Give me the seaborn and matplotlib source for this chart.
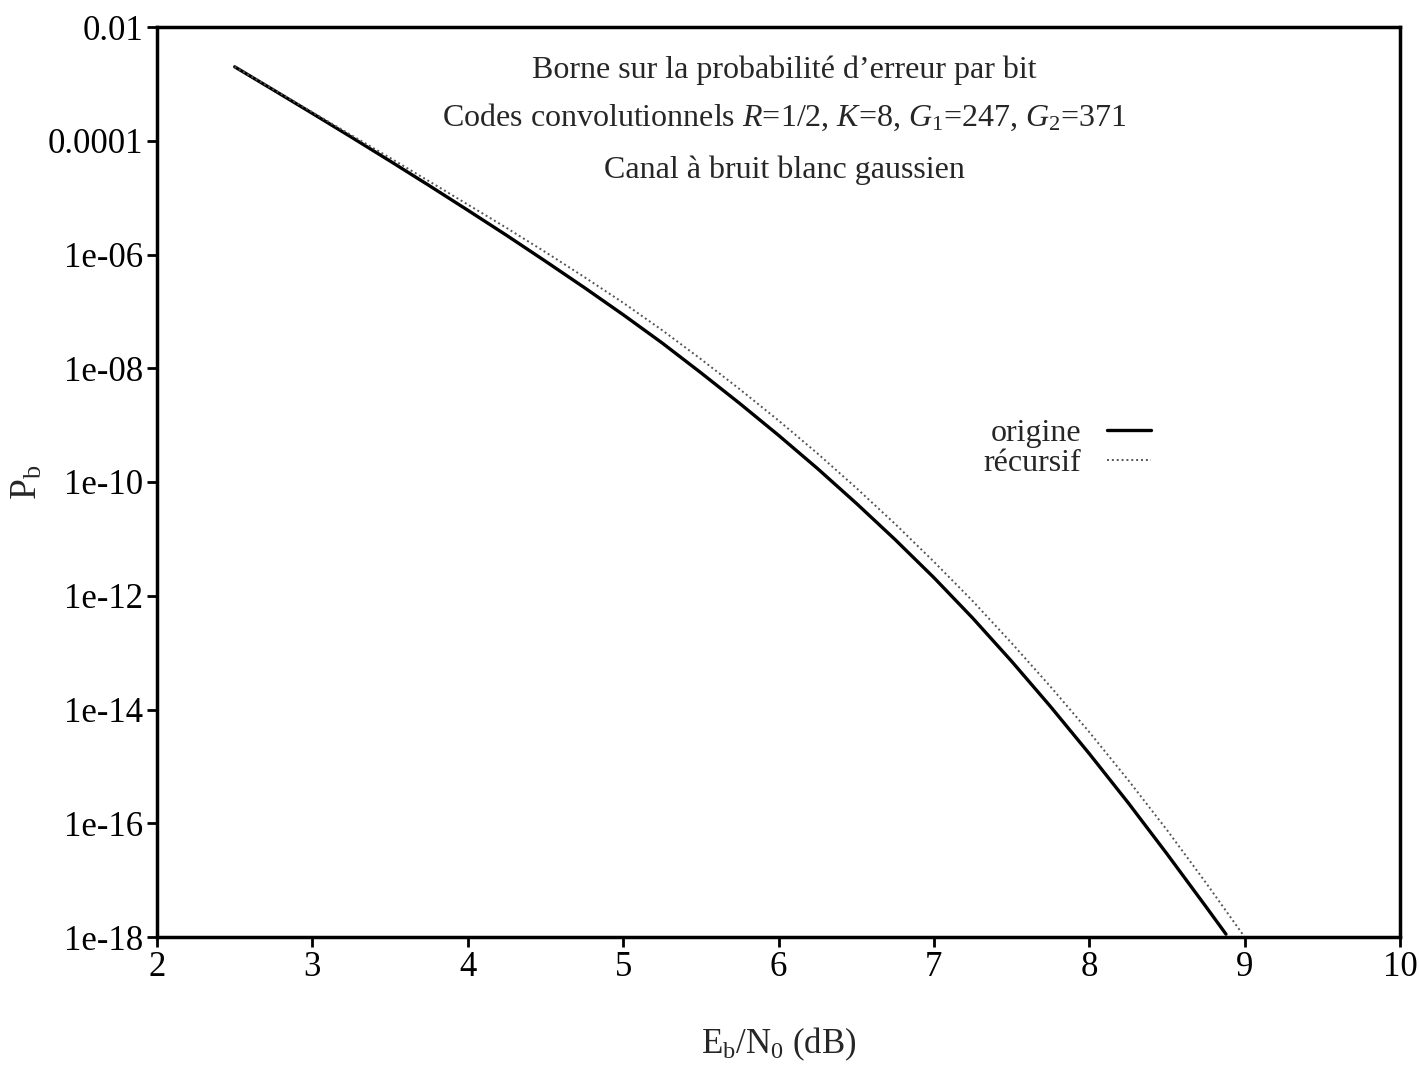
import numpy as np
import pandas as pd
import matplotlib
matplotlib.use("Agg")
import matplotlib.pyplot as plt
import seaborn as sns

# ---- data ----
ebn0_origine = [2.5, 2.75, 3.0, 3.25, 3.5, 3.75, 4.0, 4.25, 4.5, 4.75, 5.0, 5.25, 5.5, 5.75,
                6.0, 6.25, 6.5, 6.75, 7.0, 7.25, 7.5, 7.75, 8.0, 8.25, 8.5, 8.75, 8.88]
log10_pb_origine = [-2.700, -3.108, -3.519, -3.935, -4.357, -4.785, -5.221, -5.663, -6.118,
                    -6.581, -7.058, -7.553, -8.078, -8.618, -9.178, -9.761, -10.373, -11.011,
                    -11.681, -12.393, -13.151, -13.946, -14.776, -15.638, -16.538, -17.463, -17.950]

ebn0_recursif = [2.5, 2.75, 3.0, 3.25, 3.5, 3.75, 4.0, 4.25, 4.5, 4.75, 5.0, 5.25, 5.5, 5.75,
                 6.0, 6.25, 6.5, 6.75, 7.0, 7.25, 7.5, 7.75, 8.0, 8.25, 8.5, 8.75, 9.0]
log10_pb_recursif = [-2.700, -3.098, -3.499, -3.900, -4.302, -4.710, -5.121, -5.533, -5.958,
                     -6.396, -6.848, -7.328, -7.838, -8.368, -8.918, -9.496, -10.103, -10.736,
                     -11.401, -12.093, -12.831, -13.596, -14.396, -15.238, -16.118, -17.043, -18.000]

x_ticks = [2, 3, 4, 5, 6, 7, 8, 9, 10]
y_tick_exponents = [-2, -4, -6, -8, -10, -12, -14, -16, -18]
y_tick_labels = ["0.01", "0.0001", "1e-06", "1e-08", "1e-10", "1e-12", "1e-14", "1e-16", "1e-18"]
series_labels = ["origine", "récursif"]
title_lines = [
    "Borne sur la probabilité d\u2019erreur par bit",
    "Codes convolutionnels $R$=1/2, $K$=8, $G_1$=247, $G_2$=371",
    "Canal à bruit blanc gaussien",
]

# ---- style ----
sns.set_style("ticks")
plt.rcParams["font.family"] = ["Liberation Serif", "DejaVu Serif"]
plt.rcParams["mathtext.fontset"] = "custom"
plt.rcParams["mathtext.rm"] = "Liberation Serif"
plt.rcParams["mathtext.it"] = "Liberation Serif:italic"
plt.rcParams["mathtext.bf"] = "Liberation Serif:bold"
FS = 23
TFS = 25

df_o = pd.DataFrame({"x": ebn0_origine, "y": 10.0 ** np.array(log10_pb_origine)})
df_r = pd.DataFrame({"x": ebn0_recursif, "y": 10.0 ** np.array(log10_pb_recursif)})

fig = plt.figure(figsize=(14.19, 10.69), dpi=100)
ax = fig.add_axes([157 / 1419, 1 - 937 / 1069, (1400 - 157) / 1419, (937 - 27) / 1069])

sns.lineplot(data=df_o, x="x", y="y", ax=ax, color="black", linewidth=2.4,
             label=series_labels[0], estimator=None, sort=False)
sns.lineplot(data=df_r, x="x", y="y", ax=ax, color="#555555", linewidth=1.4,
             linestyle=(0, (1, 1.5)), label=series_labels[1], estimator=None, sort=False)

ax.set_yscale("log")
ax.set_xlim(2, 10)
ax.set_ylim(1e-18, 1e-2)
ax.set_xticks(x_ticks)
ax.set_xticklabels([str(t) for t in x_ticks], fontsize=TFS)
ax.set_yticks([10.0 ** e for e in y_tick_exponents])
ax.set_yticklabels(y_tick_labels, fontsize=TFS)
ax.yaxis.set_minor_locator(matplotlib.ticker.NullLocator())
ax.tick_params(axis="both", direction="out", length=7, width=2, pad=3, colors="black")

for s in ax.spines.values():
    s.set_visible(True)
    s.set_linewidth(2.5)
    s.set_color("black")

ax.set_xlabel("E$_\\mathrm{b}$/N$_\\mathrm{0}$ (dB)", fontsize=TFS, labelpad=30)
ax.set_ylabel("P$_\\mathrm{b}$", fontsize=TFS + 2, labelpad=2)

for line, ypos in zip(title_lines, [0.953, 0.901, 0.843]):
    ax.text(0.505, ypos, line, transform=ax.transAxes, ha="center", va="center", fontsize=FS)

leg = ax.legend(loc="center right", bbox_to_anchor=(0.80, 0.537), frameon=False,
                fontsize=FS, markerfirst=False, handlelength=1.4, handletextpad=0.8,
                labelspacing=0.0, borderaxespad=0, borderpad=0)

fig.savefig("out.png", dpi=100, facecolor="white")
